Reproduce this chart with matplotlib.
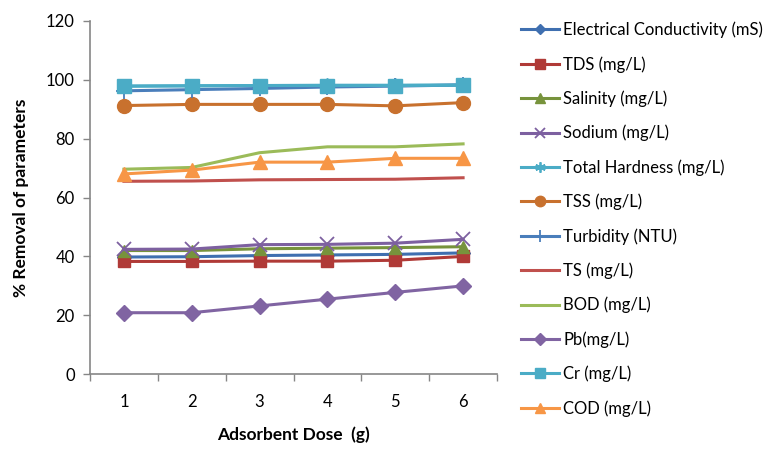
import matplotlib
matplotlib.use("Agg")
import matplotlib.pyplot as plt
from matplotlib.ticker import FixedLocator

plt.rcParams['font.family'] = ['Lato', 'DejaVu Sans']

doses = [1, 2, 3, 4, 5, 6]
series_names = ["Electrical Conductivity (mS)", "TDS (mg/L)", "Salinity (mg/L)",
                "Sodium (mg/L)", "Total Hardness (mg/L)", "TSS (mg/L)",
                "Turbidity (NTU)", "TS (mg/L)", "BOD (mg/L)", "Pb(mg/L)",
                "Cr (mg/L)", "COD (mg/L)"]
ec = [39.8, 39.9, 40.3, 40.5, 40.7, 41.2]
tds = [38.3, 38.3, 38.4, 38.4, 38.7, 40.0]
salinity = [42.0, 42.0, 42.6, 42.8, 43.0, 43.3]
sodium = [42.4, 42.5, 44.0, 44.1, 44.5, 45.8]
total_hardness = [97.8, 97.9, 98.0, 98.1, 98.1, 98.2]
tss = [91.2, 91.6, 91.6, 91.6, 91.1, 92.2]
turbidity = [96.2, 96.6, 97.0, 97.5, 97.8, 98.2]
ts = [65.5, 65.6, 66.0, 66.1, 66.2, 66.7]
bod = [69.6, 70.2, 75.2, 77.2, 77.2, 78.2]
pb = [20.9, 20.9, 23.2, 25.5, 27.8, 30.0]
cr = [97.8, 97.9, 98.0, 98.0, 98.0, 98.1]
cod = [68.0, 69.3, 72.0, 72.0, 73.3, 73.3]

data = [ec, tds, salinity, sodium, total_hardness, tss, turbidity, ts, bod, pb, cr, cod]
colors = ["#3F6FB0", "#B03A37", "#77933C", "#7D60A0", "#4BACC6", "#C8712E",
          "#4A7EBB", "#C0504D", "#9BBB59", "#8064A2", "#4BACC6", "#F79646"]
markers = ["D", "s", "^", "x", (6, 2, 0), "o", "+", None, None, "D", "s", "^"]
msizes = [7, 9, 9, 10, 10, 10, 11, 0, 0, 8, 10, 10]

fig = plt.figure(figsize=(7.73, 4.51), dpi=100)
ax = fig.add_axes([90/773, (451-374.3)/451, (497-90)/773, (374.3-20.7)/451])

for vals, name, c, m, ms in zip(data, series_names, colors, markers, msizes):
    kw = dict(color=c, lw=2.2, label=name)
    if m is not None:
        kw.update(marker=m, markersize=ms, markerfacecolor=c, markeredgecolor=c,
                  markeredgewidth=1.3 if m in ("x", "+", (6, 2, 0)) else 1)
    ax.plot(doses, vals, **kw)

ax.set_xlim(0.5, 6.5)
ax.set_ylim(0, 120)
ax.set_yticks(range(0, 121, 20))
ax.set_xticks(doses)
ax.xaxis.set_minor_locator(FixedLocator([0.5 + i for i in range(7)]))
ax.tick_params(axis='x', which='major', length=0, pad=14, labelsize=12)
ax.tick_params(axis='x', which='minor', length=5, color="#868686", width=1)
ax.tick_params(axis='y', length=5, color="#868686", width=1, labelsize=12, pad=6)
for s in ["top", "right"]:
    ax.spines[s].set_visible(False)
for s in ["left", "bottom"]:
    ax.spines[s].set_color("#868686")
    ax.spines[s].set_linewidth(1.2)

ax.set_xlabel("Adsorbent Dose  (g)", fontsize=12.5, fontweight="bold", labelpad=12)
ax.set_ylabel("% Removal of parameters", fontsize=12.5, fontweight="bold", labelpad=12)

leg = fig.legend(loc="upper left", bbox_to_anchor=(514/773, 1 - 15/451),
                 frameon=False, fontsize=12, labelspacing=1.07, markerscale=0.75,
                 handlelength=2.3, handletextpad=0.25, borderaxespad=0)

fig.savefig("out.png", dpi=100)
